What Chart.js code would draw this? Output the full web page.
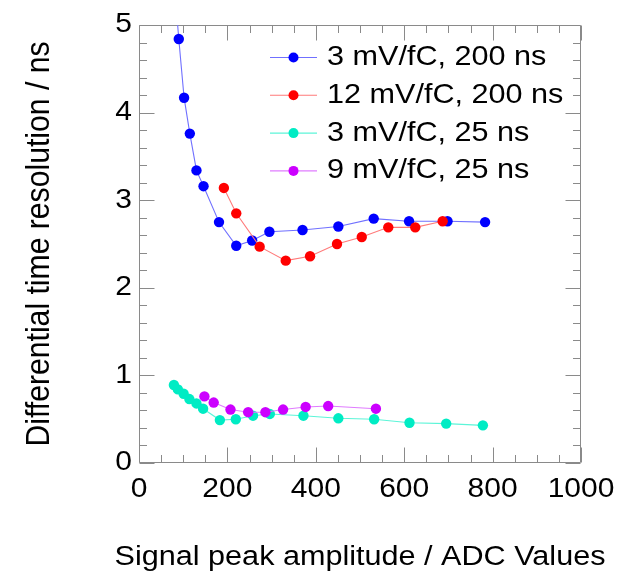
<!DOCTYPE html>
<html><head><meta charset="utf-8">
<script src="https://cdn.jsdelivr.net/npm/chart.js@4/dist/chart.umd.min.js"></script>
<style>html,body{margin:0;padding:0;background:#fff;}#wrap{width:638px;height:575px;}</style>
</head><body><div id="wrap"><canvas id="c" width="638" height="575"></canvas></div>
<script>
// ---- data ----
const seriesNames = ["3 mV/fC, 200 ns", "12 mV/fC, 200 ns", "3 mV/fC, 25 ns", "9 mV/fC, 25 ns"];
const s1X = [81, 90, 102, 115, 130, 146, 181, 220, 256, 295, 370, 451, 531, 611, 698, 783];
const s1Y = [5.4, 4.84, 4.17, 3.76, 3.34, 3.16, 2.75, 2.48, 2.54, 2.64, 2.66, 2.70, 2.79, 2.76, 2.76, 2.75];
const s2X = [192, 220, 273, 332, 387, 448, 504, 564, 625, 687];
const s2Y = [3.14, 2.85, 2.47, 2.31, 2.36, 2.50, 2.58, 2.69, 2.69, 2.76];
const s3X = [79, 88, 101, 114, 130, 145, 183, 219, 258, 296, 372, 451, 532, 612, 695, 778];
const s3Y = [0.89, 0.84, 0.79, 0.73, 0.68, 0.62, 0.49, 0.50, 0.54, 0.56, 0.54, 0.51, 0.50, 0.46, 0.45, 0.43];
const s4X = [148, 169, 207, 247, 286, 326, 377, 428, 536];
const s4Y = [0.76, 0.69, 0.61, 0.58, 0.58, 0.61, 0.64, 0.65, 0.62];
const xTicks = [0, 200, 400, 600, 800, 1000];
const yTicks = [0, 1, 2, 3, 4, 5];
const xTitle = "Signal peak amplitude / ADC Values";
const yTitle = "Differential time resolution / ns";

// ---- styles ----
const markerColors = ["#0000ff", "#ff0000", "#00ecc4", "#cc00ff"];
const lineColors = ["#7070ff", "#ff7a7a", "#5cf5d8", "#e07cff"];
const FONT = "'Liberation Sans', Arial, sans-serif";
const FS = 30;
const LEG_FS = 30.6;
const XTITLE_FS = 30.6;
const YTITLE_FS = 33.5;
const FRAME = "#8a8a8a";
const TEXT_SQUASH = 0.9; // text glyphs appear vertically compressed in the reference

function pts(xs, ys) { return xs.map((x, i) => ({x: x, y: ys[i]})); }
const allX = [s1X, s2X, s3X, s4X], allY = [s1Y, s2Y, s3Y, s4Y];
const datasets = seriesNames.map((n, i) => ({
  label: n,
  data: pts(allX[i], allY[i]),
  showLine: true,
  borderColor: lineColors[i],
  borderWidth: 1.1,
  backgroundColor: markerColors[i],
  pointBackgroundColor: markerColors[i],
  pointBorderColor: markerColors[i],
  pointBorderWidth: 0,
  pointRadius: 5.2,
  pointHoverRadius: 5.2,
  tension: 0,
  order: 4 - i
}));

const squashPlugin = {
  id: 'squash',
  beforeInit(chart) {
    const ctx = chart.ctx;
    const orig = ctx.fillText.bind(ctx);
    ctx.fillText = function (t, x, y) {
      const m = ctx.getTransform();
      const p = m.transformPoint(new DOMPoint(x, y));
      ctx.save();
      ctx.setTransform(new DOMMatrix().translate(p.x, p.y).scale(1, TEXT_SQUASH).translate(-p.x, -p.y).multiply(m));
      orig(t, x, y);
      ctx.restore();
    };
  }
};

const framePlugin = {
  id: 'frame',
  beforeDatasetsDraw(chart) {
    const {ctx, chartArea: a, scales: {x, y}} = chart;
    ctx.save();
    ctx.strokeStyle = FRAME;
    ctx.lineWidth = 1;
    const L = Math.round(a.left) + 0.5, R = Math.round(a.right) - 0.5;
    const T = Math.round(a.top) + 0.5, B = Math.round(a.bottom) - 0.5;
    ctx.beginPath();
    ctx.rect(L, T, R - L, B - T);
    const MJ = 15, MN = 7.5;
    for (let i = 0; i < xTicks.length; i++) {
      const px = Math.round(x.getPixelForValue(xTicks[i])) + 0.5;
      ctx.moveTo(px, B); ctx.lineTo(px, B - MJ);
      ctx.moveTo(px, T); ctx.lineTo(px, T + MJ);
      if (i < xTicks.length - 1) {
        const step = (xTicks[i + 1] - xTicks[i]) / 4;
        for (let k = 1; k < 4; k++) {
          const p = Math.round(x.getPixelForValue(xTicks[i] + k * step)) + 0.5;
          ctx.moveTo(p, B); ctx.lineTo(p, B - MN);
          ctx.moveTo(p, T); ctx.lineTo(p, T + MN);
        }
      }
    }
    for (let i = 0; i < yTicks.length; i++) {
      const py = Math.round(y.getPixelForValue(yTicks[i])) + 0.5;
      ctx.moveTo(L, py); ctx.lineTo(L + MJ, py);
      ctx.moveTo(R, py); ctx.lineTo(R - MJ, py);
      if (i < yTicks.length - 1) {
        const step = (yTicks[i + 1] - yTicks[i]) / 5;
        for (let k = 1; k < 5; k++) {
          const p = Math.round(y.getPixelForValue(yTicks[i] + k * step)) + 0.5;
          ctx.moveTo(L, p); ctx.lineTo(L + MN, p);
          ctx.moveTo(R, p); ctx.lineTo(R - MN, p);
        }
      }
    }
    ctx.stroke();
    ctx.restore();
  }
};

const legendPlugin = {
  id: 'rootLegend',
  afterDraw(chart) {
    const ctx = chart.ctx;
    const x0 = 270, x1 = 317, mx = 293.5, tx = 327, top = 57.5, step = 37.8;
    ctx.save();
    chart.data.datasets.forEach((ds, i) => {
      const yy = top + i * step;
      ctx.strokeStyle = ds.borderColor;
      ctx.lineWidth = 1.1;
      ctx.beginPath(); ctx.moveTo(x0, yy); ctx.lineTo(x1, yy); ctx.stroke();
      ctx.fillStyle = ds.pointBackgroundColor;
      ctx.beginPath(); ctx.arc(mx, yy, 5, 0, Math.PI * 2); ctx.fill();
      ctx.fillStyle = "#000";
      ctx.font = LEG_FS + "px " + FONT;
      ctx.textBaseline = "middle";
      ctx.textAlign = "left";
      ctx.fillText(ds.label, tx, yy);
    });
    ctx.restore();
  }
};

new Chart(document.getElementById('c'), {
  type: 'scatter',
  data: {datasets: datasets},
  plugins: [squashPlugin, framePlugin, legendPlugin],
  options: {
    responsive: false,
    devicePixelRatio: 1,
    animation: false,
    events: [],
    layout: {padding: {top: 20, right: 57, left: 0, bottom: 0}},
    plugins: {legend: {display: false}, tooltip: {enabled: false}},
    scales: {
      x: {
        type: 'linear', min: 0, max: 1000,
        afterBuildTicks: s => { s.ticks = xTicks.map(v => ({value: v})); },
        afterFit: s => { s.height = 112; },
        grid: {display: false, drawTicks: false},
        border: {display: false},
        ticks: {color: '#000', font: {family: FONT, size: FS}, padding: 9, maxRotation: 0, autoSkip: false,
                callback: v => String(v)},
        title: {display: true, text: xTitle, color: '#000', font: {family: FONT, size: XTITLE_FS, lineHeight: 1}, padding: {top: 0, bottom: 2}}
      },
      y: {
        type: 'linear', min: 0, max: 5,
        afterBuildTicks: s => { s.ticks = yTicks.map(v => ({value: v})); },
        afterFit: s => { s.width = 139; },
        grid: {display: false, drawTicks: false},
        border: {display: false},
        ticks: {color: '#000', font: {family: FONT, size: FS}, padding: 7, autoSkip: false,
                callback: v => String(v)},
        title: {display: true, text: yTitle, color: '#000', font: {family: FONT, size: YTITLE_FS, lineHeight: 1}, padding: {top: 23, bottom: 0}}
      }
    }
  }
});
</script></body></html>
